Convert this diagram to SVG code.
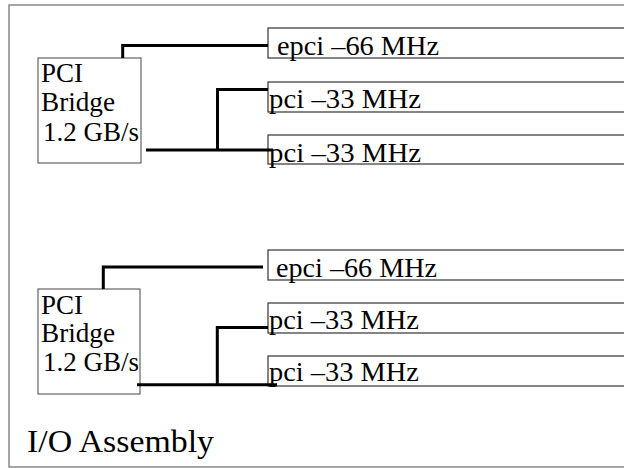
<svg xmlns="http://www.w3.org/2000/svg" width="624" height="468" viewBox="0 0 624 468">
<style>
text{font-family:"Liberation Serif","Times New Roman",serif;fill:#000}
.br{fill:#fff;stroke:#444;stroke-width:1}
.bus{fill:#fff;stroke:#333;stroke-width:1.2}
.lbl{font-size:28px}
.c{fill:none;stroke:#000;stroke-width:3}
</style>
<rect x="9" y="5" width="640" height="462" fill="#fff" stroke="#888" stroke-width="1.5"/>
<g id="bridge1"><rect class="br" x="38" y="58" width="103" height="105"/>
<text class="lbl" x="41" y="82" textLength="42" lengthAdjust="spacingAndGlyphs">PCI</text><text class="lbl" x="41" y="111" textLength="74" lengthAdjust="spacingAndGlyphs">Bridge</text><text class="lbl" x="43" y="141" textLength="96" lengthAdjust="spacingAndGlyphs">1.2 GB/s</text></g>
<g id="bus1a"><rect class="bus" x="268" y="28" width="400" height="30"/><text class="lbl" x="277" y="55" textLength="162" lengthAdjust="spacingAndGlyphs">epci –66 MHz</text></g>
<g id="bus1b"><rect class="bus" x="268" y="82" width="400" height="30"/><text class="lbl" x="269" y="108" textLength="152" lengthAdjust="spacingAndGlyphs">pci –33 MHz</text></g>
<g id="bus1c"><rect class="bus" x="268" y="135" width="400" height="29"/><text class="lbl" x="269" y="162" textLength="152" lengthAdjust="spacingAndGlyphs">pci –33 MHz</text></g>
<g id="bridge2"><rect class="br" x="38" y="289" width="102" height="105"/>
<text class="lbl" x="41" y="314" textLength="42" lengthAdjust="spacingAndGlyphs">PCI</text><text class="lbl" x="41" y="342" textLength="74" lengthAdjust="spacingAndGlyphs">Bridge</text><text class="lbl" x="43" y="371" textLength="96" lengthAdjust="spacingAndGlyphs">1.2 GB/s</text></g>
<g id="bus2a"><rect class="bus" x="268" y="250" width="400" height="30"/><text class="lbl" x="276" y="277" textLength="161" lengthAdjust="spacingAndGlyphs">epci –66 MHz</text></g>
<g id="bus2b"><rect class="bus" x="268" y="303" width="400" height="30"/><text class="lbl" x="269" y="329" textLength="150" lengthAdjust="spacingAndGlyphs">pci –33 MHz</text></g>
<g id="bus2c"><rect class="bus" x="268" y="356" width="400" height="30"/><text class="lbl" x="269" y="381" textLength="150" lengthAdjust="spacingAndGlyphs">pci –33 MHz</text></g>
<g id="connectors">
<polyline class="c" points="122.7,58 122.7,45.5 268,45.5"/>
<polyline class="c" points="146,150 273,150"/>
<polyline class="c" points="217.5,150 217.5,89.5 268,89.5"/>
<polyline class="c" points="103.3,289 103.3,267 263,267"/>
<polyline class="c" points="137,384.7 277,384.7"/>
<polyline class="c" points="217.3,384.7 217.3,327.5 268,327.5"/>
</g>
<text x="27" y="452" font-size="32" textLength="187" lengthAdjust="spacingAndGlyphs">I/O Assembly</text>
</svg>
